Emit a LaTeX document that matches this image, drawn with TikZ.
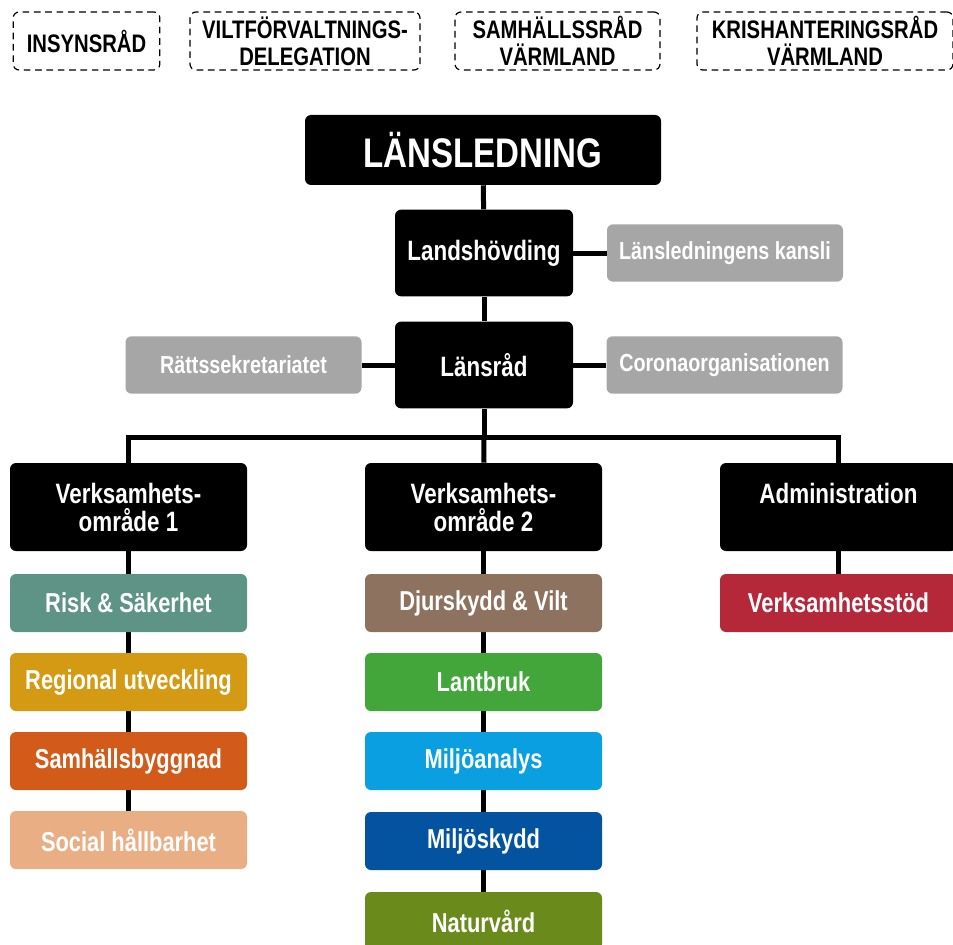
\documentclass[tikz,border=0pt]{standalone}
\usepackage{fontspec}
\setmainfont{Liberation Sans}[FakeStretch=0.8]
\usepackage{tikz}
\usetikzlibrary{positioning,backgrounds}
\definecolor{graybox}{HTML}{A6A6A6}
\definecolor{risk}{HTML}{5E9485}
\definecolor{regional}{HTML}{D49A14}
\definecolor{samhall}{HTML}{D35B1A}
\definecolor{social}{HTML}{EAAE85}
\definecolor{djur}{HTML}{8D735F}
\definecolor{lantbruk}{HTML}{42A63A}
\definecolor{miljoan}{HTML}{0A9FE0}
\definecolor{miljosk}{HTML}{0353A0}
\definecolor{natur}{HTML}{6A8A1B}
\definecolor{vstod}{HTML}{B5283A}
\tikzstyle{org}=[every node/.style={rounded corners=4.5pt,inner sep=0,
                align=center,text=white,font=\bfseries\fontsize{21}{21}\selectfont}]
\tikzstyle{chief}=[fill=black,minimum width=133.5pt,minimum height=65pt]
\tikzstyle{staff}=[fill=graybox,minimum width=177pt,minimum height=43pt,
                font=\bfseries\fontsize{18.5}{20}\selectfont]
\tikzstyle{area}=[fill=black,minimum width=177.75pt,minimum height=66pt]
\tikzstyle{unit}=[minimum width=177.75pt,minimum height=43.5pt,
                font=\bfseries\fontsize{20.5}{21}\selectfont]
\tikzstyle{council}=[draw=black,dash pattern=on 5pt off 3.5pt,line width=0.9pt,
                text=black,minimum height=43.5pt,
                font=\bfseries\fontsize{19}{20}\selectfont]
\tikzstyle{conn}=[line width=3.75pt,black]

\begin{document}
\begin{tikzpicture}[org,x=0.75pt,y=-0.75pt]
  \path[use as bounding box] (0,0) rectangle (953,945);
  % advisory councils
  \node[council,minimum width=110pt] (insyn) at (86.5,41) {INSYNSRÅD};
  \node[council,minimum width=172.5pt] (vilt) at (305,41) {VILTFÖRVALTNINGS-\\DELEGATION};
  \node[council,minimum width=153.75pt] (samrad) at (557.5,41) {SAMHÄLLSSRÅD\\VÄRMLAND};
  \node[council,minimum width=192pt] (krisrad) at (825,41) {KRISHANTERINGSRÅD\\VÄRMLAND};
  % management
  \node[fill=black,minimum width=267pt,minimum height=52.5pt,
        font=\bfseries\fontsize{31}{32}\selectfont] (ledning) at (483,150) {LÄNSLEDNING};
  \node[chief] (lh) at (484,253) {Landshövding};
  \node[staff] (kansli) at (725,253) {Länsledningens kansli};
  \node[chief] (lr) at (484,365) {Länsråd};
  \node[staff] (ratt) at (243.5,365) {Rättssekretariatet};
  \node[staff] (corona) at (724.5,365) {Coronaorganisationen};
  \coordinate (bus) at (484,437);
  % areas
  \node[area] (vo1) at (128.5,507) {Verksamhets-\\område 1};
  \node[area] (vo2) at (483.5,507) {Verksamhets-\\område 2};
  \node[area] (adm) at (838.5,507) {Administration\\~};
  % units
  \node[unit,fill=risk] (risk) at (128.5,603) {Risk \& Säkerhet};
  \node[unit,fill=regional] (reg) at (128.5,682) {Regional utveckling};
  \node[unit,fill=samhall] (sbygg) at (128.5,761) {Samhällsbyggnad};
  \node[unit,fill=social] (soc) at (128.5,840) {Social hållbarhet};
  \node[unit,fill=djur] (djur) at (483.5,603) {Djurskydd \& Vilt};
  \node[unit,fill=lantbruk] (lant) at (483.5,682) {Lantbruk};
  \node[unit,fill=miljoan] (mana) at (483.5,761) {Miljöanalys};
  \node[unit,fill=miljosk] (msk) at (483.5,841) {Miljöskydd};
  \node[unit,fill=natur] (natur) at (483.5,921) {Naturvård};
  \node[unit,fill=vstod] (stod) at (838.5,603) {Verksamhetsstöd};
  \begin{scope}[on background layer]
    \path[conn]
      (ledning) edge (lh)
      (lh) edge (kansli)
      (lh) edge (lr)
      (lr) edge (ratt)
      (lr) edge (corona)
      (lr) edge (bus)
      (bus) edge (vo2)
      (vo1) edge (risk) (risk) edge (reg) (reg) edge (sbygg) (sbygg) edge (soc)
      (vo2) edge (djur) (djur) edge (lant) (lant) edge (mana)
      (mana) edge (msk) (msk) edge (natur)
      (adm) edge (stod);
    \draw[conn] (vo1.north) |- (bus) -| (adm.north);
  \end{scope}
\end{tikzpicture}
\end{document}
